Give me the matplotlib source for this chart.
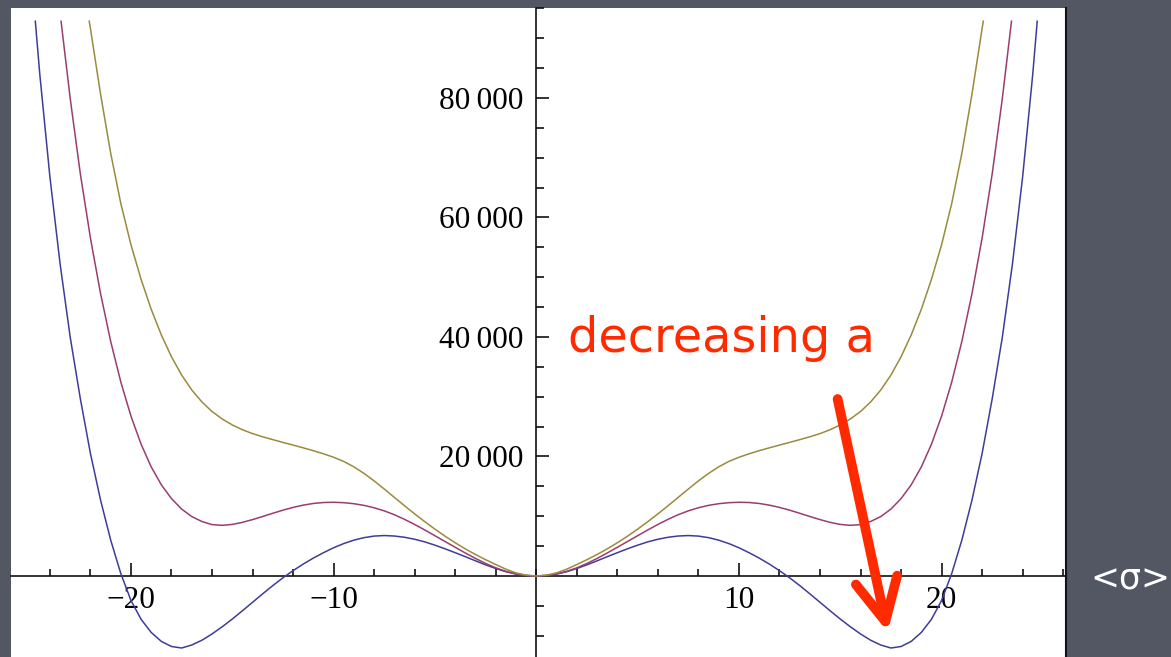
import matplotlib
matplotlib.use("Agg")
import matplotlib.pyplot as plt
from matplotlib.ticker import MultipleLocator, FuncFormatter
from matplotlib.lines import Line2D
import numpy as np

# Right half of each even potential curve (x >= 0); the left half is its mirror image.
x_blue = [0, 0.5, 1, 1.5, 2, 2.5, 3, 3.5, 4, 4.5, 5, 5.5, 6, 6.5, 7, 7.5, 8, 8.5, 9, 9.5,
          10, 10.5, 11, 11.5, 12, 12.5, 13, 13.5, 14, 14.5, 15, 15.5, 16, 16.5, 17, 17.5,
          18, 18.5, 19, 19.5, 20, 20.5, 21, 21.5, 22, 22.5, 23, 23.5, 24, 24.5, 24.72]
v_blue = [0, 80, 320, 720, 1250, 1870, 2540, 3230, 3900, 4550, 5160, 5710, 6150, 6480,
          6690, 6770, 6680, 6420, 6000, 5430, 4730, 3900, 3000, 2000, 900, -300, -1600,
          -2980, -4400, -5820, -7200, -8500, -9700, -10750, -11550, -12050, -11800, -10950,
          -9450, -7250, -4100, 400, 6000, 12700, 20500, 29700, 40000, 52300, 66800, 84000,
          92850]

x_pink = [0, 0.5, 1, 1.5, 2, 2.5, 3, 3.5, 4, 4.5, 5, 5.5, 6, 6.5, 7, 7.5, 8, 8.5, 9, 9.5,
          10, 10.5, 11, 11.5, 12, 12.5, 13, 13.5, 14, 14.5, 15, 15.5, 16, 16.5, 17, 17.5,
          18, 18.5, 19, 19.5, 20, 20.5, 21, 21.5, 22, 22.5, 23, 23.45]
v_pink = [0, 90, 350, 780, 1370, 2100, 2940, 3850, 4800, 5770, 6740, 7700, 8620, 9480,
          10250, 10900, 11420, 11820, 12100, 12270, 12340, 12300, 12140, 11860, 11480,
          11020, 10500, 9960, 9440, 8980, 8630, 8480, 8600, 9120, 9950, 11200, 12950,
          15250, 18250, 22050, 26750, 32450, 39250, 47250, 56550, 67350, 79950, 92850]

x_gold = [0, 0.5, 1, 1.5, 2, 2.5, 3, 3.5, 4, 4.5, 5, 5.5, 6, 6.5, 7, 7.5, 8, 8.5, 9, 9.5,
          10, 10.5, 11, 11.5, 12, 12.5, 13, 13.5, 14, 14.5, 15, 15.5, 16, 16.5, 17, 17.5,
          18, 18.5, 19, 19.5, 20, 20.5, 21, 21.5, 22, 22.06]
v_gold = [0, 140, 520, 1140, 1920, 2730, 3600, 4540, 5560, 6660, 7840, 9090, 10390,
          11750, 13150, 14550, 15910, 17170, 18270, 19170, 19870, 20450, 20970, 21450,
          21910, 22360, 22820, 23300, 23830, 24480, 25280, 26280, 27530, 29130, 31130,
          33630, 36680, 40330, 44630, 49630, 55430, 62330, 70730, 80630, 91630, 92850]

x_ticks_major = [-20, -10, 10, 20]
y_ticks_major = [20000, 40000, 60000, 80000]

series = [
    (x_blue, v_blue, (0.24, 0.24, 0.60)),
    (x_pink, v_pink, (0.60, 0.24, 0.443)),
    (x_gold, v_gold, (0.60, 0.547, 0.24)),
]


def mirrored(xs, vs):
    xs = np.asarray(xs, dtype=float)
    vs = np.asarray(vs, dtype=float)
    return (np.concatenate([-xs[:0:-1], xs]), np.concatenate([vs[:0:-1], vs]))


W, H = 1171, 657
fig = plt.figure(figsize=(W / 100, H / 100), dpi=100)
fig.patch.set_facecolor("#535763")

ax = fig.add_axes([11 / W, 0, 1055 / W, 649 / H])
ax.set_facecolor("white")

for xs, vs, col in series:
    xx, vv = mirrored(xs, vs)
    ax.plot(xx, vv, color=col, lw=1.1, solid_joinstyle="round", zorder=3)

ax.set_xlim(-25.92, 26.14)
ax.set_ylim(-13556, 95060)

for side in ("top", "right"):
    ax.spines[side].set_visible(False)
ax.spines["left"].set_position(("data", 0))
ax.spines["bottom"].set_position(("data", 0))
for side in ("left", "bottom"):
    ax.spines[side].set_linewidth(1.2)
    ax.spines[side].set_color("#111111")

ax.set_xticks(x_ticks_major)
ax.xaxis.set_minor_locator(MultipleLocator(2))
ax.set_yticks(y_ticks_major)
ax.yaxis.set_minor_locator(MultipleLocator(5000))


def fmt_x(v, pos=None):
    s = f"{abs(int(round(v)))}"
    return ("\u2212" + s) if v < 0 else s


def fmt_y(v, pos=None):
    return f"{int(round(v)):,}".replace(",", "\u2009")


ax.xaxis.set_major_formatter(FuncFormatter(fmt_x))
ax.yaxis.set_major_formatter(FuncFormatter(fmt_y))

for lab in ax.get_xticklabels() + ax.get_yticklabels():
    lab.set_fontfamily("Liberation Serif")
    lab.set_fontsize(22.5)

ax.tick_params(axis="x", which="major", direction="in", length=9.4, width=1.2, pad=7,
               color="#111111")
ax.tick_params(axis="x", which="minor", direction="in", length=5.0, width=1.2,
               color="#111111")
ax.tick_params(axis="y", which="major", direction="in", length=9.4, width=1.2, pad=9,
               color="#111111")
ax.tick_params(axis="y", which="minor", direction="in", length=5.8, width=1.2,
               color="#111111")

# frame edge on the right side of the white panel
fig.add_artist(Line2D([1066 / W, 1066 / W], [0, 649 / H], color="#111111", lw=1.5))

red = "#ff2a00"
ax.annotate("", xy=(17.34, -9370), xytext=(14.87, 29620), xycoords="data",
            arrowprops=dict(arrowstyle="->,head_length=0.4,head_width=0.2",
                            mutation_scale=76, lw=7, color=red,
                            shrinkA=0, shrinkB=0),
            zorder=5)

fig.text(568 / W, 1 - 352 / H, "decreasing a", color=red, fontsize=34.5,
         family="DejaVu Sans", ha="left", va="baseline")

fig.text(1130 / W, 1 - 579 / H, "<\u03c3>", color="white", fontsize=25,
         family="DejaVu Sans", ha="center", va="center")

fig.savefig("out.png", dpi=100, facecolor=fig.get_facecolor())
